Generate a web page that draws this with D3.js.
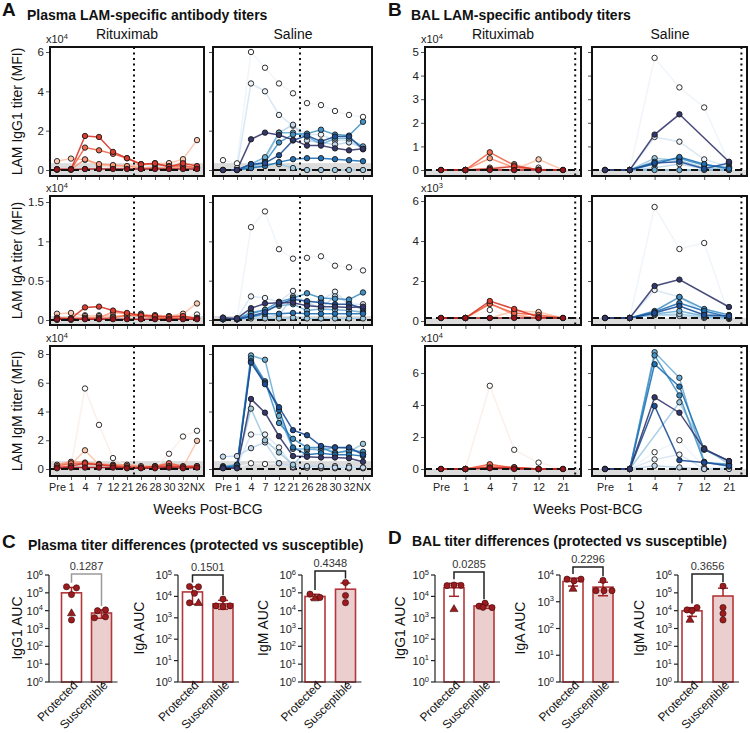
<!DOCTYPE html>
<html><head><meta charset="utf-8">
<script src="https://cdn.jsdelivr.net/npm/d3@7"></script>
<style>body{margin:0;background:#fff}svg{display:block}</style>
</head><body>
<svg id="c" width="750" height="733" font-family="'Liberation Sans', Arial, Helvetica, sans-serif"></svg>
<script>
// ================= DATA =================
const weeksPlasma = ["Pre","1","4","7","12","21","26","28","30","32","NX"];
const weeksBAL = ["Pre","1","4","7","12","21"];
const groupLabels = ["Rituximab","Saline"];

// Plasma IgG1 (x10^4 MFI) — one row per animal
const plasmaIgG1Rtx = [
  [0.05,0.05,0.05,0.1,0.2,0.15,0.1,0.35,0.3,0.4,0.1],
  [0.45,0.58,0.52,0.25,0.2,0.15,0.28,0.3,0.35,0.55,1.52],
  [0.02,0.02,0.54,0.3,0.25,0.2,0.1,0.12,0.1,0.15,0.1],
  [0.02,0.02,1.14,1.0,0.82,0.6,0.3,0.3,0.2,0.22,0.12],
  [0.03,0.03,1.73,1.68,0.92,0.6,0.29,0.34,0.17,0.34,0.2],
  [0.03,0.03,0.05,0.05,0.05,0.05,0.05,0.05,0.05,0.05,0.05]
];
const plasmaIgG1Sal = [
  [0.5,0.34,6.0,5.2,4.4,3.9,3.4,3.3,3.0,2.8,2.7],
  [0,0.1,4.4,4.0,2.8,2.25,1.8,1.8,1.5,1.5,1.1],
  [0,0,0.2,0.5,1.9,2.3,1.5,1.4,1.3,1.4,1.15],
  [0,0,0.1,0.3,0.3,0.1,0,0,0,0,0],
  [0,0,0.3,0.65,1.9,1.9,1.7,1.3,1.6,1.6,1.2],
  [0,0,0.2,0.4,1.4,1.8,1.85,2.05,1.8,1.75,2.45],
  [0,0,0.1,0.2,0.4,0.55,0.6,0.6,0.55,0.5,0.45],
  [0,0,0.3,0.35,0.75,1.5,1.75,1.45,1.7,1.7,1.05],
  [0,0,1.56,1.9,1.78,1.53,1.24,1.24,1.1,1.0,1.08]
];
// Plasma IgA (x10^4 MFI)
const plasmaIgARtx = [
  [0,0,0.06,0.06,0.04,0.05,0.08,0.06,0.05,0.05,0.07],
  [0.08,0.09,0.05,0.05,0.05,0.06,0.07,0.06,0.05,0.08,0.21],
  [0.03,0.02,0.03,0.03,0.1,0.08,0.06,0.04,0.03,0.03,0.03],
  [0.02,0.02,0.02,0.02,0.03,0.06,0.05,0.03,0.02,0.02,0.02],
  [0.02,0.02,0.16,0.17,0.12,0.09,0.06,0.05,0.04,0.05,0.02],
  [0.01,0.01,0.01,0.01,0.01,0.01,0.01,0.01,0.01,0.01,0.01]
];
const plasmaIgASal = [
  [0.03,0.02,1.18,1.38,0.9,0.78,0.79,0.81,0.69,0.67,0.63],
  [0.02,0.02,0.3,0.28,0.23,0.37,0.2,0.25,0.36,0.2,0.2],
  [0.01,0.01,0.05,0.04,0.06,0.3,0.22,0.15,0.3,0.22,0.12],
  [0.01,0.01,0.02,0.02,0.02,0.03,0.02,0.02,0.02,0.02,0.02],
  [0.01,0.01,0.1,0.12,0.18,0.2,0.12,0.14,0.13,0.12,0.1],
  [0.01,0.01,0.08,0.13,0.23,0.28,0.34,0.28,0.27,0.26,0.35],
  [0.01,0.01,0.04,0.08,0.08,0.09,0.08,0.08,0.08,0.08,0.08],
  [0.01,0.01,0.05,0.1,0.2,0.26,0.24,0.22,0.2,0.2,0.15],
  [0.03,0.02,0.15,0.21,0.22,0.22,0.18,0.17,0.17,0.16,0.17]
];
// Plasma IgM (x10^4 MFI)
const plasmaIgMRtx = [
  [0.2,0.25,5.6,3.07,0.76,0.2,0.1,0.1,1.06,2.26,2.66],
  [0.2,0.3,1.3,0.3,0.2,0.15,0.1,0.15,0.2,0.1,1.96],
  [0.3,0.5,0.45,0.35,0.3,0.3,0.2,0.2,0.3,0.1,0.15],
  [0.2,0.4,0.35,0.3,0.25,0.2,0.1,0.2,0.4,0.2,0.2],
  [0.1,0.2,0.4,0.3,0.2,0.1,0.1,0.15,0.2,0.15,0.2],
  [0.05,0.1,0.1,0.1,0.1,0.05,0.05,0.05,0.1,0.05,0.1]
];
const plasmaIgMSal = [
  [0.1,0.1,0.4,0.35,0.4,0.1,0.1,0.05,0.05,0.05,0.05],
  [0.1,0.2,2.4,2.4,1.5,0.2,0.1,0.1,0.2,0.2,0.1],
  [0.86,0.9,1.45,1.85,0.4,0.15,0.2,0.2,0.1,0.1,0.1],
  [0.1,0.3,4.2,2.0,1.15,0.3,1.3,1.55,1.15,1.2,1.75],
  [0.2,0.3,7.9,7.6,3.7,1.4,1.4,1.3,1.5,1.45,1.0],
  [0.15,0.2,7.7,6.1,3.2,2.1,1.5,1.5,1.1,1.3,1.2],
  [0.1,0.25,7.5,6.0,4.1,1.5,1.0,1.1,1.0,1.0,0.9],
  [0.1,0.1,7.4,5.9,4.3,2.7,2.35,1.6,1.5,1.5,1.0],
  [0.05,0.05,4.87,3.92,2.28,0.9,0.85,0.8,0.8,0.75,0.5]
];
// BAL IgG1 (x10^4 MFI)
const balIgG1Rtx = [
  [0,0,0.1,0.25,0.1,0],
  [0,0,0.05,0,0.45,0],
  [0,0,0.5,0.1,0,0],
  [0,0,0.75,0.2,0,0],
  [0,0,0.05,0.15,0.02,0],
  [0,0,0,0,0,0]
];
const balIgG1Sal = [
  [0,0,4.75,3.5,2.65,0.3],
  [0,0,1.4,1.2,0.45,0.15],
  [0,0,0.1,0.25,0.05,0],
  [0,0,0.5,0.4,0.1,0.05],
  [0,0,0,0,0,0],
  [0,0,0.35,0.5,0.2,0.1],
  [0,0,0.25,0.55,0.25,0.05],
  [0,0,0.3,0.35,0.05,0.3],
  [0,0,1.5,2.36,null,0.35]
];
// BAL IgA (x10^3 MFI)
const balIgARtx = [
  [0.15,0.15,0.55,0.2,0.4,0.15],
  [0.15,0.15,0.15,0.5,0.45,0.15],
  [0.15,0.15,0.9,0.3,0.15,0.15],
  [0.15,0.15,0.85,0.4,0.3,0.15],
  [0.15,0.15,1.0,0.6,0.2,0.15],
  [0.15,0.15,0.15,0.15,0.15,0.15]
];
const balIgASal = [
  [0.15,0.15,5.7,3.6,3.9,0.3],
  [0.15,0.15,1.55,1.2,0.4,0.2],
  [0.15,0.15,0.3,0.25,0.15,0.1],
  [0.15,0.15,0.3,0.35,0.2,0.15],
  [0.15,0.15,0.35,0.5,0.25,0.15],
  [0.15,0.15,0.5,1.2,0.6,0.3],
  [0.15,0.15,0.45,0.9,0.5,0.2],
  [0.15,0.15,0.4,0.75,0.3,0.25],
  [0.15,0.15,1.75,2.07,null,0.7]
];
// BAL IgM (x10^4 MFI)
const balIgMRtx = [
  [0,0,5.2,1.2,0.4,0],
  [0,0,0.25,0.1,0,0],
  [0,0,0.15,0.1,0,0],
  [0,0,0.3,0.05,0,0],
  [0,0,0.1,0.1,0,0],
  [0,0,0.05,0,0,0]
];
const balIgMSal = [
  [0,0,1.05,1.8,0.1,0.05],
  [0,0,0.6,0.9,0,0.1],
  [0,0,0.2,0.1,0,0],
  [0,0,null,4.17,1.3,0.3],
  [0,0,7.3,5.7,0.45,0.15],
  [0,0,7.1,4.6,0.4,0.3],
  [0,0,6.55,5.15,1.2,0.5],
  [0,0,3.94,0.55,0.4,0.2],
  [0,0,4.48,3.52,1.25,0.5]
];

// y tick values
const plasmaIgG1Ticks = [0,2,4,6];
const plasmaIgATicks = [0,0.5,1,1.5];
const plasmaIgMTicks = [0,2,4,6,8];
const balIgG1Ticks = [0,1,2,3,4,5];
const balIgATicks = [0,2,4,6];
const balIgMTicks = [0,2,4,6];
// positivity thresholds (grey band top) and dashed baselines
const plasmaBand = [0.35,0.05,0.55];
const plasmaBaseline = [0,0,0];
const balBand = [0,0.15,0];
const balBaseline = [0,0.15,0];
const plasmaExp = ["4","4","4"];
const balExp = ["4","3","4"];
const isotypeLabels = ["LAM IgG1 titer (MFI)","LAM IgA titer (MFI)","LAM IgM titer (MFI)"];

// AUC (protected vs susceptible); last protected value = triangle animal
const groupNames = ["Protected","Susceptible"];
const plasmaIgG1Prot = [220000,190000,80000,3000,7000];
const plasmaIgG1Susc = [10000,11000,4000,4500];
const plasmaIgAProt = [29000,28000,14000,5000,4800];
const plasmaIgASusc = [7500,3600,3300,3600];
const plasmaIgMProt = [85000,55000,48000];
const plasmaIgMSusc = [380000,71000,28000];
const balIgG1Prot = [32000,34000,33000,2500];
const balIgG1Susc = [3500,4800,3000,3100];
const balIgAProt = [7000,6000,7000,3000];
const balIgASusc = [6300,2600,2600,2600];
const balIgMProt = [11000,15000,10000,3000];
const balIgMSusc = [240000,15000,6900,3000];
const plasmaPValues = ["0.1287","0.1501","0.4348"];
const balPValues = ["0.0285","0.2296","0.3656"];
const aucExpTop = { plasma:[6,5,6], bal:[5,4,6] };
const aucLabels = ["IgG1 AUC","IgA AUC","IgM AUC"];

// ================= STYLE / LAYOUT =================
const svg = d3.select("#c");
const rtxFill = ["#ffffff","#fdc9b0","#fc9a7a","#f26a4c","#dc3a2d","#9e1118"];
const rtxLine = ["#fbeee9","#fcc3a8","#fb9474","#f06548","#d93629","#a3141b"];
const salFill = ["#ffffff","#eef4fb","#c6dbef","#9ecae1","#6baed6","#4292c6","#2171b5","#1d4f98","#34376d"];
const salLine = ["#eef4fa","#d5e5f4","#bcd6ec","#9ecae1","#6baed6","#4292c6","#2171b5","#1d4f98","#34376d"];

const rows = [{T:47,B:176},{T:196,B:325},{T:346,B:476}];
const colsA = [{L:50,R:204,xL:57,xR:197},{L:213,R:372,xL:223,xR:363}];
const colsB = [{L:425,R:581,xL:441,xR:563},{L:592,R:747,xL:605,xR:729}];
const plasmaYMap = [{y0:170,yt:52},{y0:320,yt:202},{y0:469,yt:354}];
const balYMap = [{y0:170,yt:52},{y0:321,yt:201},{y0:469,yt:373}];

function txt(x,y,s,opt={}) {
  const t = svg.append("text").attr("x",x).attr("y",y).text(s)
    .attr("font-size",opt.size||12).attr("fill",opt.fill||"#111");
  if (opt.bold) t.attr("font-weight","bold");
  if (opt.anchor) t.attr("text-anchor",opt.anchor);
  return t;
}

function linePanel(p) {
  const g = svg.append("g");
  const x = d3.scalePoint().domain(p.cats).range([p.xL,p.xR]);
  const ticks = p.ticks;
  const y = d3.scaleLinear().domain([0, ticks[ticks.length-1]]).range([p.y0, p.yt]);
  const bt = y(p.band);
  g.append("rect").attr("x",p.L).attr("y",bt).attr("width",p.R-p.L).attr("height",p.B-bt).attr("fill","#dcdcdc");
  const line = d3.line().x(d=>x(d[0])).y(d=>y(d[1]));
  const pts = p.series.map(s=>p.cats.map((c,j)=>[c,s[j]]).filter(d=>d[1]!=null));
  pts.forEach((pp,i)=>{
    g.append("path").attr("d",line(pp)).attr("fill","none")
      .attr("stroke",p.lineColors[i]).attr("stroke-width",1.5).attr("stroke-opacity",0.9);
  });
  g.append("line").attr("x1",p.L).attr("x2",p.R).attr("y1",y(p.dash)).attr("y2",y(p.dash))
    .attr("stroke","#111").attr("stroke-width",2).attr("stroke-dasharray","7,4");
  const idx = p.cats.indexOf("21");
  const dx = idx < p.cats.length-1 ? (x(p.cats[idx])+x(p.cats[idx+1]))/2 : x(p.cats[idx]) + x.step()/2;
  g.append("line").attr("x1",dx).attr("x2",dx).attr("y1",p.T).attr("y2",p.B)
    .attr("stroke","#111").attr("stroke-width",2).attr("stroke-dasharray","2,3.5");
  pts.forEach((pp,i)=>{
    g.selectAll(null).data(pp).enter().append("circle")
      .attr("cx",d=>x(d[0])).attr("cy",d=>y(d[1])).attr("r",2.7)
      .attr("fill",p.fillColors[i]).attr("stroke","#1a1a1a").attr("stroke-width",0.9);
  });
  g.append("rect").attr("x",p.L).attr("y",p.T).attr("width",p.R-p.L).attr("height",p.B-p.T)
    .attr("fill","none").attr("stroke","#111").attr("stroke-width",2);
  const ya = g.append("g").attr("transform",`translate(${p.L-1},0)`)
    .call(d3.axisLeft(y).tickValues(ticks).tickSize(3).tickPadding(2).tickFormat(p.showY ? d3.format("~g") : ()=>""));
  ya.attr("font-family",null).attr("font-size",11.5);
  ya.select(".domain").remove();
  ya.selectAll("line").attr("stroke","#555");
  ya.selectAll("text").attr("fill","#222");
  const xa = g.append("g").attr("transform",`translate(0,${p.B+1})`)
    .call(d3.axisBottom(x).tickSize(3).tickPadding(3).tickFormat(p.showX ? d=>d : ()=>""));
  xa.attr("font-family",null).attr("font-size",10.8);
  xa.select(".domain").remove();
  xa.selectAll("line").attr("stroke","#555");
  xa.selectAll("text").attr("fill","#222");
  if (p.exp) {
    const t = txt(p.L-4, p.T-4, "x10", {size:11, fill:"#222"});
    t.append("tspan").attr("dy",-4).attr("font-size",7.5).text(p.exp);
  }
}

txt(2,16,"A",{size:19,bold:true});
txt(27,20,"Plasma LAM-specific antibody titers",{size:14,bold:true});
txt(127,39,groupLabels[0],{size:14,anchor:"middle"});
txt(293,39,groupLabels[1],{size:14,anchor:"middle"});
txt(503,39,groupLabels[0],{size:14,anchor:"middle"});
txt(670,39,groupLabels[1],{size:14,anchor:"middle"});
txt(388,16,"B",{size:19,bold:true});
txt(411,20,"BAL LAM-specific antibody titers",{size:14,bold:true});

const plasmaSets = [[plasmaIgG1Rtx,plasmaIgG1Sal,plasmaIgG1Ticks],[plasmaIgARtx,plasmaIgASal,plasmaIgATicks],[plasmaIgMRtx,plasmaIgMSal,plasmaIgMTicks]];
const balSets = [[balIgG1Rtx,balIgG1Sal,balIgG1Ticks],[balIgARtx,balIgASal,balIgATicks],[balIgMRtx,balIgMSal,balIgMTicks]];

plasmaSets.forEach((set,r)=>{
  [0,1].forEach(gi=>{
    linePanel(Object.assign({}, rows[r], colsA[gi], plasmaYMap[r], {
      cats: weeksPlasma, ticks: set[2], series: set[gi],
      band: plasmaBand[r], dash: plasmaBaseline[r],
      fillColors: gi===0 ? rtxFill : salFill, lineColors: gi===0 ? rtxLine : salLine,
      showY: gi===0, showX: r===2, exp: gi===0 ? plasmaExp[r] : null
    }));
  });
  svg.append("text").attr("transform",`translate(22,${(rows[r].T+rows[r].B)/2}) rotate(-90)`)
    .attr("text-anchor","middle").attr("font-size",14).attr("fill","#111").text(isotypeLabels[r]);
});
balSets.forEach((set,r)=>{
  [0,1].forEach(gi=>{
    linePanel(Object.assign({}, rows[r], colsB[gi], balYMap[r], {
      cats: weeksBAL, ticks: set[2], series: set[gi],
      band: balBand[r], dash: balBaseline[r],
      fillColors: gi===0 ? rtxFill : salFill, lineColors: gi===0 ? rtxLine : salLine,
      showY: gi===0, showX: r===2, exp: gi===0 ? balExp[r] : null
    }));
  });
});
txt(208,514,"Weeks Post-BCG",{size:14,anchor:"middle"});
txt(588,514,"Weeks Post-BCG",{size:14,anchor:"middle"});

txt(2,548,"C",{size:19,bold:true});
txt(28,550,"Plasma titer differences (protected vs susceptible)",{size:14,bold:true});
txt(388,544,"D",{size:19,bold:true});
txt(412,546,"BAL titer differences (protected vs susceptible)",{size:14,bold:true});

function barChart(b) {
  const g = svg.append("g");
  const y = d3.scaleLog().domain([1, Math.pow(10,b.topExp)]).range([682,575]);
  const x = d3.scalePoint().domain(groupNames).range([b.axisX+b.c1, b.axisX+b.c2]);
  const bw = 20, red = "#b3373a";
  const groups = [b.prot, b.susc];
  const tops = [];
  groups.forEach((vals,gi)=>{
    const m = d3.mean(vals), sd = d3.deviation(vals);
    const cx = x(groupNames[gi]);
    g.append("rect").attr("x",cx-bw/2).attr("y",y(m)).attr("width",bw).attr("height",y(1)-y(m))
      .attr("fill", gi ? "#ebcfcf" : "#ffffff").attr("stroke",red).attr("stroke-width",1.6);
    const hi = m+sd, lo = m-sd;
    const yl = lo > 1 ? y(lo) : y(m);
    g.append("line").attr("x1",cx).attr("x2",cx).attr("y1",yl).attr("y2",y(hi)).attr("stroke","#a3262a").attr("stroke-width",1.5);
    g.append("line").attr("x1",cx-5).attr("x2",cx+5).attr("y1",y(hi)).attr("y2",y(hi)).attr("stroke","#a3262a").attr("stroke-width",1.5);
    if (lo > 1) g.append("line").attr("x1",cx-5).attr("x2",cx+5).attr("y1",y(lo)).attr("y2",y(lo)).attr("stroke","#a3262a").attr("stroke-width",1.5);
    const jit = b.jitter[gi];
    vals.forEach((v,k)=>{
      const px = cx + jit[k], py = y(v);
      if (gi===0 && k===vals.length-1 && b.triangle) {
        g.append("path").attr("d",d3.symbol(d3.symbolTriangle, 28)()).attr("transform",`translate(${px},${py})`)
          .attr("fill","#9b1b1f").attr("stroke","#3a0a0a").attr("stroke-width",0.6);
      } else {
        g.append("circle").attr("cx",px).attr("cy",py).attr("r",3.1).attr("fill","#9b1b1f").attr("stroke","#3a0a0a").attr("stroke-width",0.6);
      }
    });
    tops.push(Math.min(y(hi), y(d3.max(vals))));
  });
  g.append("line").attr("x1",b.axisX).attr("x2",b.axisX).attr("y1",y(1)).attr("y2",y(Math.pow(10,b.topExp))).attr("stroke","#222").attr("stroke-width",1.2);
  g.append("line").attr("x1",b.axisX).attr("x2",x(groupNames[1])+16).attr("y1",y(1)).attr("y2",y(1)).attr("stroke","#222").attr("stroke-width",1.2);
  d3.range(0,b.topExp+1).forEach(e=>{
    const v = Math.pow(10,e);
    g.append("line").attr("x1",b.axisX-4).attr("x2",b.axisX).attr("y1",y(v)).attr("y2",y(v)).attr("stroke","#222").attr("stroke-width",1.2);
    const t = g.append("text").attr("x",b.axisX-6).attr("y",y(v)+4).attr("text-anchor","end").attr("font-size",11).attr("fill","#222").text("10");
    t.append("tspan").attr("dy",-4.5).attr("font-size",7.5).text(String(e));
  });
  groupNames.forEach(n=>{
    const cx = x(n);
    g.append("line").attr("x1",cx).attr("x2",cx).attr("y1",y(1)).attr("y2",y(1)+3).attr("stroke","#222").attr("stroke-width",1.2);
    g.append("text").attr("transform",`translate(${cx+7},${686}) rotate(-45)`).attr("text-anchor","end")
      .attr("font-size",12).attr("fill","#111").text(n);
  });
  g.append("text").attr("transform",`translate(${b.labelX},628) rotate(-90)`).attr("text-anchor","middle")
    .attr("font-size",14).attr("fill","#111").text(b.label);
  const x1 = x(groupNames[0]), x2 = x(groupNames[1]);
  g.append("path").attr("d",`M${x1},${tops[0]-4}V${b.by}H${x2}V${tops[1]-4}`)
    .attr("fill","none").attr("stroke",b.bColor).attr("stroke-width",1.5);
  g.append("text").attr("x",(x1+x2)/2).attr("y",b.by-4).attr("text-anchor","middle").attr("font-size",11).attr("fill","#333").text(b.p);
}

const jitter = {
  pG: [[-5,5,0,0,0],[-4,4,-7,4]],
  pA: [[-3,6,2,-3,6],[0,-7,0,7]],
  pM: [[-5,5,0],[0,0,0]],
  bG: [[-7,0,7,0],[-5,1,8,-1]],
  bA: [[-6,1,8,0],[0,-7,1,9]],
  bM: [[-5,5,0,-2],[0,0,0,0]]
};
barChart({axisX:49, c1:22.5, c2:52.5, topExp:aucExpTop.plasma[0], prot:plasmaIgG1Prot, susc:plasmaIgG1Susc, jitter:jitter.pG, triangle:true, label:aucLabels[0], labelX:22, p:plasmaPValues[0], by:574, bColor:"#9a9a9a"});
barChart({axisX:178, c1:14.5, c2:45, topExp:aucExpTop.plasma[1], prot:plasmaIgAProt, susc:plasmaIgASusc, jitter:jitter.pA, triangle:true, label:aucLabels[1], labelX:144, p:plasmaPValues[1], by:575, bColor:"#222"});
barChart({axisX:302, c1:13, c2:43.5, topExp:aucExpTop.plasma[2], prot:plasmaIgMProt, susc:plasmaIgMSusc, jitter:jitter.pM, triangle:true, label:aucLabels[2], labelX:268, p:plasmaPValues[2], by:571, bColor:"#222"});
barChart({axisX:435, c1:19, c2:49, topExp:aucExpTop.bal[0], prot:balIgG1Prot, susc:balIgG1Susc, jitter:jitter.bG, triangle:true, label:aucLabels[0], labelX:405, p:balPValues[0], by:572, bColor:"#222"});
barChart({axisX:560, c1:13, c2:43, topExp:aucExpTop.bal[1], prot:balIgAProt, susc:balIgASusc, jitter:jitter.bA, triangle:true, label:aucLabels[1], labelX:525, p:balPValues[1], by:567, bColor:"#222"});
barChart({axisX:678, c1:14, c2:45, topExp:aucExpTop.bal[2], prot:balIgMProt, susc:balIgMSusc, jitter:jitter.bM, triangle:true, label:aucLabels[2], labelX:644, p:balPValues[2], by:574, bColor:"#222"});
</script>
</body></html>
